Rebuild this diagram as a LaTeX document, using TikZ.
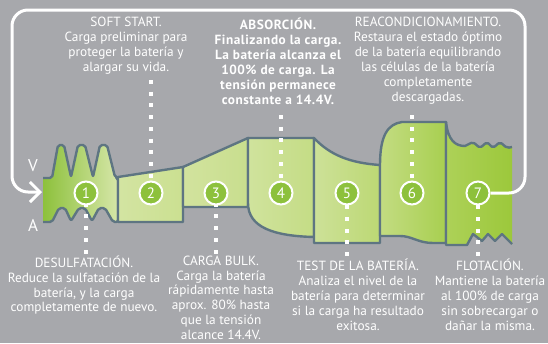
\documentclass[tikz,border=0pt]{standalone}
\usepackage{fontspec}
\setmainfont{PT Sans}
\usetikzlibrary{arrows.meta}
\definecolor{bggray}{HTML}{A7A8AC}
\definecolor{edge}{HTML}{5E7582}
\definecolor{dotgreen}{HTML}{8DC13C}
\begin{document}
\begin{tikzpicture}[x=1pt, y=-1pt,
    band/.style={draw=edge, line width=2.4pt, line join=round},
    num/.style={circle, draw=white, line width=2pt, fill=dotgreen, text=white,
      minimum size=23pt, inner sep=0pt, font=\fontsize{15}{15}\selectfont},
    info/.style={align=center, text=white, inner sep=0pt, anchor=north,
      execute at begin node={\rule{0pt}{12pt}}, font=\fontsize{13.3}{14.9}\selectfont},
    dotline/.style={white, line width=3.5pt, dash pattern=on 4pt off 7.7pt},
    loopline/.style={white, line width=3pt, rounded corners=16pt}]
  \useasboundingbox (0,0) rectangle (548,343);
  \fill[bggray] (0,0) rectangle (548,343);

  % the charging band, one piece per stage
  \draw[band, rounded corners=2pt, left color=dotgreen, right color={rgb,255:red,214;green,230;blue,168}]
    (43,178) -- (52,178) -- (58,145) -- (64,145) -- (71,177) -- (78,145) -- (85,145)
    -- (93,177) -- (100,145) -- (107,145) -- (115,177) -- (118,178) -- (118,222)
    -- (113,222) -- (105,208) -- (99,208) -- (92,221) -- (85,208) -- (79,208)
    -- (71,221) -- (65,208) -- (59,208) -- (52,222) -- (43,222);
  \draw[band, left color={rgb,255:red,211;green,228;blue,162}, right color={rgb,255:red,203;green,224;blue,145}]
    (118,177) -- (183,167) -- (183,222) -- (118,222) -- cycle;
  \draw[band, left color={rgb,255:red,210;green,227;blue,158}, right color={rgb,255:red,200;green,222;blue,142}]
    (183,167) -- (248,138) -- (248,207) -- (183,207) -- cycle;
  \draw[band, left color={rgb,255:red,208;green,227;blue,157}, right color={rgb,255:red,196;green,220;blue,133}]
    (248,138) -- (314,138) -- (314,237) .. controls (275,236) and (248,228) .. (248,203) -- cycle;
  \draw[band, left color={rgb,255:red,205;green,225;blue,152}, right color={rgb,255:red,188;green,216;blue,116}]
    (314,138) .. controls (330,155) and (350,163) .. (380,165) -- (380,243) -- (314,243) -- cycle;
  \draw[band, left color={rgb,255:red,195;green,220;blue,130}, right color={rgb,255:red,168;green,207;blue,80}]
    (380,236) -- (380,165) .. controls (380,135) and (388,124) .. (402,122) -- (446,122)
    -- (446,243) -- (433,243) .. controls (418,243) and (412,236) .. (400,236) -- cycle;
  \draw[band, left color={rgb,255:red,173;green,209;blue,88}, right color={rgb,255:red,156;green,200;blue,59}]
    (512,244) -- (502,234) -- (495,241) -- (488,234) -- (482,241) -- (473,234) -- (467,245)
    -- (446,245) -- (446,122) .. controls (448,140) and (455,146) .. (465,146)
    [rounded corners=2pt] -- (473,142) -- (480,148) -- (487,142) -- (493,148) -- (500,142)
    -- (507,148) -- (512,147);

  \node[text=white, font=\fontsize{17}{17}\selectfont] (volt) at (33,166) {V};
  \node[text=white, font=\fontsize{17}{17}\selectfont] (amp) at (33,225) {A};

  % stage texts
  \node[info] (soft) at (126,17.3) {SOFT START.\\Carga preliminar para\\proteger la batería y\\alargar su vida.};
  \node[info, font=\fontsize{13.3}{14.9}\selectfont\bfseries\addfontfeatures{LetterSpace=4}] (absor) at (278,18)
    {ABSORCIÓN.\\Finalizando la carga.\\La batería alcanza el\\100\% de carga. La\\tensión permanece\\constante a 14.4V.};
  \node[info] (reac) at (428,17.3) {REACONDICIONAMIENTO.\\Restaura el estado óptimo\\de la batería equilibrando\\las células de la batería\\completamente\\descargadas.};
  \node[info] (desulf) at (84,255.5) {DESULFATACIÓN.\\Reduce la sulfatación de la\\batería, y la carga\\completamente de nuevo.};
  \node[info] (bulk) at (221,255.5) {CARGA BULK.\\Carga la batería\\rápidamente hasta\\aprox. 80\% hasta\\que la tensión\\alcance 14.4V.};
  \node[info] (test) at (358,259) {TEST DE LA BATERÍA.\\Analiza el nivel de la\\batería para determinar\\si la carga ha resultado\\exitosa.};
  \node[info] (flot) at (490,259) {FLOTACIÓN.\\Mantiene la batería\\al 100\% de carga\\sin sobrecargar o\\dañar la misma.};

  \foreach \i/\x in {1/86,2/151,3/216,4/281,5/347,6/412,7/478}
    \coordinate (p\i) at (\x,193);

  \draw[dotline] (p2 |- 0,80) -- (p2);
  \draw[dotline] (p4 |- 0,115) -- (p4);
  \draw[dotline] (p6 |- 0,115) -- (p6);
  \draw[dotline] (p1 |- 0,253.5) -- (p1);
  \draw[dotline] (p3 |- 0,253.5) -- (p3);
  \draw[dotline] (p5 |- 0,256) -- (p5);
  \draw[dotline] (p7 |- 0,256) -- (p7);

  \foreach \i in {1,...,7}
    \node[num] (c\i) at (p\i) {\i};

  \draw[loopline, -{Straight Barb[length=10pt, width=20pt]}]
    (c7) -- (525,193) -- (525,10) -- (12,10) -- (12,192) -- (42,192);
\end{tikzpicture}
\end{document}
